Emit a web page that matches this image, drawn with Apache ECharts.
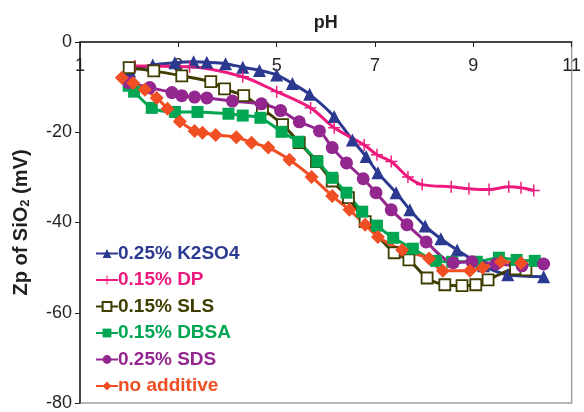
<!DOCTYPE html>
<html>
<head>
<meta charset="utf-8">
<script src="https://cdn.jsdelivr.net/npm/echarts@6/dist/echarts.min.js"></script>
<style>html,body{margin:0;padding:0;background:#fff}#c{width:584px;height:412px}</style>
</head>
<body>
<div id="c"></div>
<script>
// ---- data ----
const seriesNames = ['0.25% K2SO4', '0.15% DP', '0.15% SLS', '0.15% DBSA', '0.25% SDS', 'no additive'];
const xTicks = [1, 3, 5, 7, 9, 11];
const yTicks = [0, -20, -40, -60, -80];

const k2so4_pH = [2.01, 2.48, 2.93, 3.31, 3.58, 3.96, 4.31, 4.65, 5.00, 5.32, 5.67, 6.17, 6.54, 6.82, 7.06, 7.43, 7.71, 8.02, 8.34, 8.67, 9.21, 9.70, 10.43];
const k2so4_mV = [-6.4, -5.1, -4.6, -4.4, -4.5, -4.8, -5.6, -6.3, -7.3, -9.2, -11.6, -16.5, -21.7, -25.4, -29.0, -33.4, -37.2, -40.8, -43.6, -46.1, -49.6, -51.6, -52.0];

const dp_pH = [2.12, 3.23, 4.31, 5.00, 5.69, 6.17, 6.78, 7.04, 7.33, 7.67, 7.96, 8.55, 8.91, 9.32, 9.72, 9.97, 10.23];
const dp_mV = [-5.3, -5.5, -7.7, -11.0, -14.6, -19.0, -22.8, -25.0, -26.5, -29.9, -31.6, -32.1, -32.5, -32.7, -32.1, -32.3, -32.9];

const sls_pH = [2.00, 2.50, 3.07, 3.66, 3.94, 4.33, 4.71, 5.12, 5.46, 5.81, 6.13, 6.46, 6.80, 7.39, 7.69, 8.06, 8.42, 8.77, 9.05, 9.30, 9.86, 10.07];
const sls_mV = [-5.7, -6.4, -7.5, -8.8, -10.4, -11.9, -14.8, -18.3, -22.3, -26.5, -30.8, -34.5, -39.8, -46.7, -48.3, -52.3, -53.8, -54.0, -53.8, -52.7, -50.3, -50.5];

const dbsa_pH = [1.99, 2.10, 2.46, 2.93, 3.39, 4.02, 4.31, 4.67, 5.10, 5.44, 5.83, 6.13, 6.42, 6.74, 7.04, 7.37, 7.77, 8.24, 8.57, 9.07, 9.52, 9.88, 10.25];
const dbsa_mV = [-9.7, -11.0, -14.6, -15.5, -15.5, -15.9, -16.3, -16.8, -19.9, -22.1, -26.5, -30.1, -33.4, -37.6, -40.7, -43.4, -45.8, -48.5, -48.7, -48.7, -47.8, -48.3, -48.5];

const sds_pH = [1.99, 2.42, 2.87, 3.07, 3.33, 3.58, 4.10, 4.69, 5.08, 5.46, 5.87, 6.13, 6.42, 6.76, 7.02, 7.33, 7.65, 8.04, 8.59, 8.97, 9.46, 9.99, 10.43];
const sds_mV = [-9.0, -10.1, -11.2, -11.9, -12.2, -12.4, -13.1, -13.7, -15.2, -17.7, -19.7, -23.4, -26.8, -30.3, -33.4, -37.2, -40.5, -44.3, -48.9, -48.7, -49.2, -49.6, -49.2];

const none_pH = [1.85, 2.08, 2.32, 2.56, 2.78, 3.03, 3.33, 3.49, 3.76, 4.18, 4.49, 4.83, 5.26, 5.71, 6.13, 6.48, 6.80, 7.06, 7.55, 8.10, 8.38, 8.93, 9.19, 9.56, 9.97];
const none_mV = [-7.9, -9.1, -10.6, -12.4, -14.8, -17.6, -19.7, -20.1, -20.6, -21.1, -22.3, -23.4, -26.1, -29.9, -34.1, -37.2, -40.5, -43.2, -46.1, -48.0, -50.7, -50.7, -50.0, -48.7, -49.0];

// ---- styles ----
const colors = ['#2B3990', '#EE1A7E', '#3F3D00', '#00A651', '#93278F', '#F04E23'];
const FONT = '"Liberation Sans", Arial, sans-serif';
const plus = 'path://M-0.12,-1H0.12V-0.12H1V0.12H0.12V1H-0.12V0.12H-1V-0.12H-0.12Z';

function pairs(xs, ys) { return xs.map((x, i) => [x, ys[i]]); }

const allData = [
  pairs(k2so4_pH, k2so4_mV),
  pairs(dp_pH, dp_mV),
  pairs(sls_pH, sls_mV),
  pairs(dbsa_pH, dbsa_mV),
  pairs(sds_pH, sds_mV),
  pairs(none_pH, none_mV)
];
const symbols = ['triangle', plus, 'rect', 'rect', 'circle', 'diamond'];
const symSizes = [13, 12, 11, 12, 13, 14];

const series = seriesNames.map((n, i) => ({
  name: n,
  type: 'line',
  data: allData[i],
  smooth: 0.3,
  symbol: symbols[i],
  symbolSize: symSizes[i],
  lineStyle: { color: colors[i], width: 3 },
  itemStyle: i === 2
    ? { color: '#ffffff', borderColor: colors[i], borderWidth: 1.8 }
    : { color: colors[i], borderColor: colors[i], borderWidth: 0 },
  emphasis: { disabled: true },
  animation: false
}));

const chart = echarts.init(document.getElementById('c'), null, { renderer: 'canvas' });
chart.setOption({
  animation: false,
  color: colors,
  grid: { left: 80, top: 42, right: 11, bottom: 9, show: true, borderColor: '#a0a0a0', borderWidth: 1.5, backgroundColor: 'transparent' },
  legend: {
    orient: 'vertical',
    left: 90,
    top: 239,
    itemWidth: 22,
    itemHeight: 11,
    itemGap: 7.5,
    data: seriesNames.map((n, i) => ({ name: n, textStyle: { color: colors[i] } })),
    textStyle: { fontFamily: FONT, fontSize: 19, fontWeight: 'bold', padding: [0, 0, 0, -5] }
  },
  xAxis: {
    type: 'value',
    position: 'top',
    min: 1, max: 11, interval: 2,
    name: 'pH',
    nameLocation: 'middle',
    nameGap: 10,
    nameTextStyle: { fontFamily: FONT, fontSize: 18, fontWeight: 'bold', color: '#231F20' },
    axisLine: { show: true, lineStyle: { color: '#231F20', width: 1.5 } },
    axisTick: { show: true, inside: true, length: 5, lineStyle: { color: '#231F20' } },
    axisLabel: { inside: true, margin: 15, fontFamily: FONT, fontSize: 18, color: '#231F20',
      formatter: v => xTicks.includes(v) ? String(v) : '' },
    splitLine: { show: false }
  },
  yAxis: {
    type: 'value',
    min: -80, max: 0, interval: 20,
    name: 'Zp of SiO{sub|2} (mV)',
    nameLocation: 'middle',
    nameRotate: 90,
    nameGap: 48,
    nameTextStyle: { fontFamily: FONT, fontSize: 20, fontWeight: 'bold', color: '#231F20',
      rich: { sub: { fontFamily: FONT, fontSize: 13, fontWeight: 'bold', color: '#231F20', verticalAlign: 'bottom', padding: [9, 0, 0, 0] } } },
    axisLine: { show: true, lineStyle: { color: '#231F20', width: 1.5 } },
    axisTick: { show: true, inside: false, length: 5, lineStyle: { color: '#231F20' } },
    axisLabel: { margin: 8, fontFamily: FONT, fontSize: 18, color: '#231F20',
      formatter: v => yTicks.includes(v) ? String(v) : '' },
    splitLine: { show: false }
  },
  series: series
});
</script>
</body>
</html>
